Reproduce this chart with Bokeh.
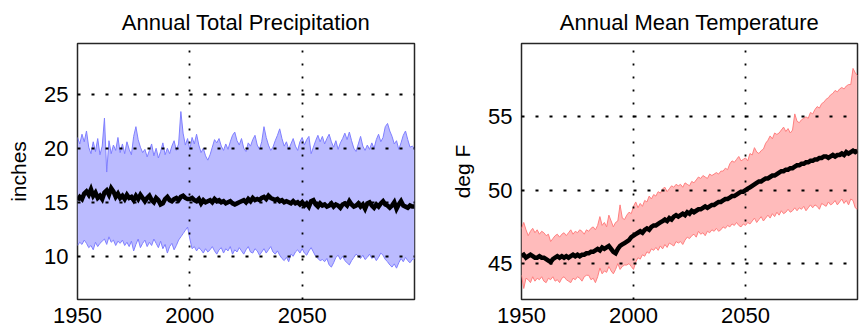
from bokeh.plotting import figure
from bokeh.layouts import row
from bokeh.models import FixedTicker, Range1d
from bokeh.embed import file_html
from bokeh.resources import INLINE

years = list(range(1950, 2101))

precip_upper = [
    21.0, 20.4, 21.3, 20.6, 21.6, 20.1, 19.5, 20.6, 19.7, 20.9,
    19.4, 20.2, 22.8, 17.8, 20.7, 19.5, 20.3, 19.8, 21.0, 19.6,
    20.4, 19.5, 20.6, 19.9, 19.4, 21.1, 22.0, 20.8, 20.1, 19.6,
    19.9, 19.2, 19.8, 20.4, 19.3, 20.0, 19.1, 19.7, 20.5, 19.4,
    20.0, 19.5, 20.2, 20.7, 19.8, 20.4, 23.4, 21.4, 20.3, 20.9,
    19.9, 21.0, 20.4, 21.3, 20.3, 19.6, 20.0, 19.3, 18.9, 19.4,
    20.1, 20.8, 20.5, 20.9, 20.2, 19.8, 20.4, 19.9, 20.6, 21.2,
    21.5, 20.7, 20.3, 20.9, 20.0, 19.7, 20.5, 20.2, 20.8, 21.2,
    20.3, 19.9, 20.6, 22.0, 21.0, 20.3, 19.8, 20.1, 20.7, 21.2,
    21.8, 20.9, 20.2, 20.6, 19.9, 20.4, 20.9, 20.2, 19.8, 20.6,
    21.0, 20.3, 20.8, 21.1, 19.5, 20.1, 20.7, 21.2, 20.6, 21.1,
    20.4, 20.9, 21.3, 20.6, 20.1, 20.7, 19.9, 20.5, 20.9, 21.4,
    20.8, 21.5, 20.7, 20.0, 19.7, 20.4, 21.1, 20.2, 19.8, 20.3,
    19.9, 20.5, 20.0, 20.8, 21.3, 20.6, 21.0, 22.0, 22.3, 21.6,
    21.1, 20.4, 20.7, 19.9, 20.5, 21.2, 21.6, 20.8, 20.1, 20.2,
    20.0,
]

precip_lower = [
    11.0, 11.3, 11.1, 11.5, 11.2, 10.8, 11.0, 10.6, 11.3, 10.9,
    11.2, 11.4, 11.6, 11.1, 11.8, 11.3, 11.5, 11.0, 11.4, 11.2,
    11.5, 11.0, 11.3, 10.9, 11.4, 10.5, 11.1, 11.6, 10.8, 11.2,
    11.5, 10.9, 11.3, 11.0, 11.6, 11.2, 10.8, 11.4, 10.7, 11.1,
    10.3, 10.9, 11.2, 10.6, 11.0, 11.5, 11.8, 12.1, 12.4, 12.7,
    11.6, 10.7, 10.9, 10.5, 10.8, 10.6, 10.3, 10.7, 10.4, 10.6,
    10.9, 10.5, 10.2, 10.6, 10.8, 10.3, 10.7, 10.5, 10.9, 10.2,
    10.6, 10.4, 10.8, 10.5, 10.2, 10.6, 10.9, 10.4, 10.3, 10.7,
    10.5, 10.1, 10.4, 10.7, 10.3, 10.6, 10.9, 10.4, 10.2, 10.5,
    10.1, 9.8, 9.6, 9.9, 9.5, 10.2, 10.0, 10.4, 10.6, 10.3,
    10.7, 10.3, 10.1, 10.5, 10.8, 10.4, 10.0, 9.8, 9.6, 9.7,
    9.5, 9.8, 9.2, 9.0, 9.4, 9.9, 10.1, 9.7, 10.0, 9.6,
    9.4, 9.2, 9.6, 9.9, 10.2, 10.0, 9.8, 10.1, 9.7, 9.9,
    10.2, 9.8, 10.0, 9.6, 9.9, 10.3, 10.1, 9.7, 9.5, 9.2,
    9.0, 9.3, 8.9, 9.4, 9.8, 9.5, 9.9, 9.6, 9.4, 9.7,
    9.8,
]

precip_mean = [
    15.2, 15.5, 15.3, 15.8, 16.0, 15.7, 16.2, 15.6, 15.9, 15.4,
    15.6, 15.3, 15.9, 16.1, 15.7, 16.3, 16.0, 15.5, 15.8, 15.4,
    15.6, 15.3, 15.7, 15.4, 15.5, 15.2, 15.6, 15.3, 15.7, 15.4,
    15.1, 15.4, 15.6, 15.2, 15.0, 15.4, 15.2, 14.8, 14.9, 15.3,
    15.5, 15.2, 15.1, 15.3, 15.4, 15.2, 15.5, 15.6, 15.4, 15.3,
    15.3, 15.4, 15.2, 15.1, 15.3, 14.9, 15.2, 15.0, 15.1, 15.2,
    15.0, 15.3, 15.1, 15.2, 15.0, 15.1, 14.9, 15.0, 15.1, 14.9,
    14.8, 14.9, 15.0, 15.1, 15.2, 15.0, 15.3, 15.1, 15.4, 15.2,
    15.3, 15.2, 15.4, 15.5, 15.3, 15.6, 15.4, 15.3, 15.2, 15.3,
    15.1, 15.2, 15.0, 15.1, 15.0, 14.9, 15.1, 14.9, 15.0, 14.8,
    15.0, 14.7, 14.9, 14.6, 15.1, 15.2, 14.8, 14.6, 14.9, 14.7,
    14.8, 14.6, 14.7, 14.9, 14.6, 14.8, 14.7, 14.5, 14.8, 14.9,
    14.7, 15.1, 14.8, 14.6, 14.7, 14.9, 14.6, 14.8, 14.4, 14.9,
    15.0, 14.7, 14.5, 14.8, 14.6, 14.9, 15.1, 14.8, 14.7, 14.5,
    14.7, 15.0, 14.4, 14.8, 15.1, 14.7, 14.6, 14.5, 14.7, 14.6,
    14.6,
]

temp_upper = [
    47.4, 47.8, 47.3, 46.9, 47.2, 47.4, 47.1, 47.3, 47.0, 47.2,
    47.1, 46.9, 47.0, 46.5, 46.7, 46.9, 47.0, 46.8, 47.0, 47.1,
    46.9, 47.1, 47.3, 47.0, 47.2, 47.1, 47.3, 47.2, 47.0, 47.3,
    47.2, 47.4, 47.5, 47.3, 47.6, 48.2, 47.6, 47.8, 47.5, 48.3,
    47.9, 47.5, 47.8, 47.9, 49.0, 48.1, 48.0, 48.3, 48.5, 48.4,
    48.9, 49.2, 48.8, 49.1, 48.9, 49.3, 49.2, 49.6, 49.4, 49.7,
    49.6, 49.9, 49.8, 50.1, 50.2, 49.9, 50.1, 50.3, 50.2, 50.4,
    50.3, 50.4, 50.2, 50.5, 50.4, 50.3, 50.6, 50.5, 50.7, 50.9,
    50.8, 51.0, 50.9, 50.8, 51.1, 51.0, 51.1, 51.2, 51.1, 51.3,
    51.3, 51.5, 51.4, 51.8, 52.0, 51.9, 52.1, 52.3, 52.0, 52.1,
    52.2, 52.0, 52.5, 52.4, 52.9, 52.6, 52.5, 52.7, 52.8, 53.2,
    53.4, 53.7, 53.5, 53.9, 53.8, 53.9, 54.1, 54.3, 54.0, 54.2,
    53.9, 54.1, 55.2, 54.7, 54.6, 54.8, 54.9, 55.0, 54.9, 55.3,
    55.2, 55.5, 55.7, 55.6, 55.9, 56.0, 56.2, 56.3, 56.5, 56.6,
    56.8, 56.7, 56.9, 57.0, 56.9, 57.1, 57.2, 57.2, 58.3, 58.0,
    57.8,
]

temp_lower = [
    44.2, 43.3, 44.0, 43.9, 43.7, 44.1, 43.8, 44.0, 43.9, 44.1,
    43.8, 43.7, 44.0, 43.9, 44.1, 43.8, 43.9, 43.7, 44.0, 44.1,
    43.9, 43.8, 43.7, 44.0, 43.9, 44.1, 44.0, 43.8, 44.1, 44.2,
    44.2, 43.9, 44.0, 43.7, 44.1, 44.7, 44.3, 44.5, 44.4, 44.8,
    44.5, 44.3, 44.6, 45.0, 44.6, 44.8, 44.9, 44.9, 45.0, 44.8,
    44.6, 45.1, 45.4, 45.3, 45.6, 45.5, 45.8, 45.7, 46.0, 45.9,
    46.1, 45.9, 46.2, 46.0, 46.3, 46.1, 46.4, 46.3, 46.2, 46.5,
    46.4, 46.5, 46.3, 46.6, 46.8, 46.7, 46.9, 47.0, 46.8, 47.2,
    47.0, 47.1, 46.9, 47.2, 47.1, 47.3, 47.2, 47.4, 47.2, 47.3,
    47.5, 47.4, 47.6, 47.5, 47.7, 47.6, 47.8, 47.6, 47.5, 47.7,
    47.6, 47.8, 47.7, 47.9, 48.1, 47.8, 48.0, 48.2, 47.9, 48.1,
    48.3, 48.1, 48.4, 48.2, 48.5, 48.3, 48.6, 48.4, 48.5, 48.7,
    48.5, 48.6, 48.8, 48.6, 48.8, 48.7, 48.9, 48.6, 48.8, 49.0,
    48.8, 49.0, 48.9, 48.7, 49.1, 49.0, 48.9, 49.2, 49.0, 49.1,
    49.3, 49.0, 49.2, 49.4, 49.1, 49.3, 49.0, 49.4, 49.3, 48.8,
    48.7,
]

temp_mean = [
    45.5, 45.6, 45.4, 45.5, 45.6, 45.5, 45.4, 45.4, 45.5, 45.4,
    45.4, 45.3, 45.2, 45.1, 45.3, 45.4, 45.5, 45.4, 45.5, 45.4,
    45.5, 45.4, 45.5, 45.6, 45.5, 45.6, 45.5, 45.6, 45.6, 45.7,
    45.7, 45.8, 45.8, 45.9, 46.0, 45.9, 46.1, 46.0, 46.1, 46.2,
    46.0, 45.8, 45.7, 46.0, 46.2, 46.3, 46.4, 46.5, 46.6, 46.8,
    46.9, 47.0, 47.1, 47.2, 47.1, 47.3, 47.4, 47.3, 47.5, 47.6,
    47.6, 47.7, 47.8, 47.9, 48.0, 47.9, 48.1, 48.0, 48.2, 48.3,
    48.2, 48.3, 48.4, 48.3, 48.5, 48.4, 48.6, 48.5, 48.6, 48.7,
    48.7, 48.8, 48.9, 48.8, 48.9, 49.0, 49.0, 49.1, 49.2, 49.2,
    49.3, 49.4, 49.4, 49.5, 49.6, 49.6, 49.7, 49.8, 49.9, 49.9,
    50.0, 50.1, 50.2, 50.3, 50.4, 50.5, 50.6, 50.6, 50.7, 50.8,
    50.8, 50.9, 51.0, 51.0, 51.1, 51.2, 51.3, 51.3, 51.4, 51.4,
    51.5, 51.5, 51.6, 51.7, 51.7, 51.8, 51.8, 51.9, 51.9, 52.0,
    52.0, 52.1, 52.1, 52.2, 52.2, 52.3, 52.3, 52.2, 52.3, 52.4,
    52.3, 52.4, 52.4, 52.5, 52.4, 52.6, 52.5, 52.6, 52.7, 52.6,
    52.7,
]

x_ticks = [1950, 2000, 2050]
precip_ticks = [10, 15, 20, 25]
temp_ticks = [45, 50, 55]

FONT = "Liberation Sans"


def make_panel(title, ylabel, lower, upper, mean, yr, yticks, fill, edge,
               width, border_left, border_right):
    p = figure(width=width, height=332, output_backend="svg",
               toolbar_location=None, x_range=Range1d(1950, 2100),
               y_range=Range1d(*yr), title=title,
               min_border_left=border_left, min_border_right=border_right,
               min_border_top=43, min_border_bottom=33)
    p.title.text_font = FONT
    p.title.text_font_size = "22px"
    p.title.text_font_style = "normal"
    p.title.align = "center"
    p.title.text_color = "#000000"
    p.title.standoff = 14
    p.title.vertical_align = "top"

    p.varea(x=years, y1=lower, y2=upper, fill_color=fill, fill_alpha=1.0)
    p.line(years, upper, line_color=edge, line_width=1)
    p.line(years, lower, line_color=edge, line_width=1)
    p.line(years, mean, line_color="black", line_width=4.5,
           line_join="miter")

    p.xaxis.ticker = FixedTicker(ticks=x_ticks)
    p.yaxis.ticker = FixedTicker(ticks=yticks)
    for ax in (p.xaxis, p.yaxis):
        ax.axis_line_color = None
        ax.major_tick_in = 0
        ax.major_tick_out = 0
        ax.minor_tick_line_color = None
        ax.major_label_text_font = FONT
        ax.major_label_text_font_size = "22px"
        ax.major_label_text_color = "#000000"
    p.xaxis.major_label_standoff = 8
    p.yaxis.major_label_standoff = 9
    p.yaxis.axis_label = ylabel
    p.yaxis.axis_label_text_font = FONT
    p.yaxis.axis_label_text_font_size = "21px"
    p.yaxis.axis_label_text_font_style = "normal"
    p.yaxis.axis_label_text_color = "#000000"
    p.yaxis.axis_label_standoff = 11

    p.grid.level = "guide"
    p.grid.grid_line_color = "black"
    p.grid.grid_line_width = 1.8
    p.xgrid.grid_line_dash = "2 11"
    p.ygrid.grid_line_dash = "3 11"

    p.outline_line_color = "#262626"
    p.outline_line_width = 1.5
    p.outline_line_alpha = 1.0
    p.background_fill_color = "white"
    p.border_fill_color = "white"
    return p


p1 = make_panel("Annual Total Precipitation", "inches", precip_lower,
                precip_upper, precip_mean, (6.0, 29.7), precip_ticks,
                "#bbbbff", "#7f7fff", 430, 77, 16)
p2 = make_panel("Annual Mean Temperature", "deg F", temp_lower,
                temp_upper, temp_mean, (42.55, 60.0), temp_ticks,
                "#ffbbbb", "#ff7f7f", 435, 91, 8)

layout = row(p1, p2)
open("out.html", "w").write(file_html(layout, INLINE))
